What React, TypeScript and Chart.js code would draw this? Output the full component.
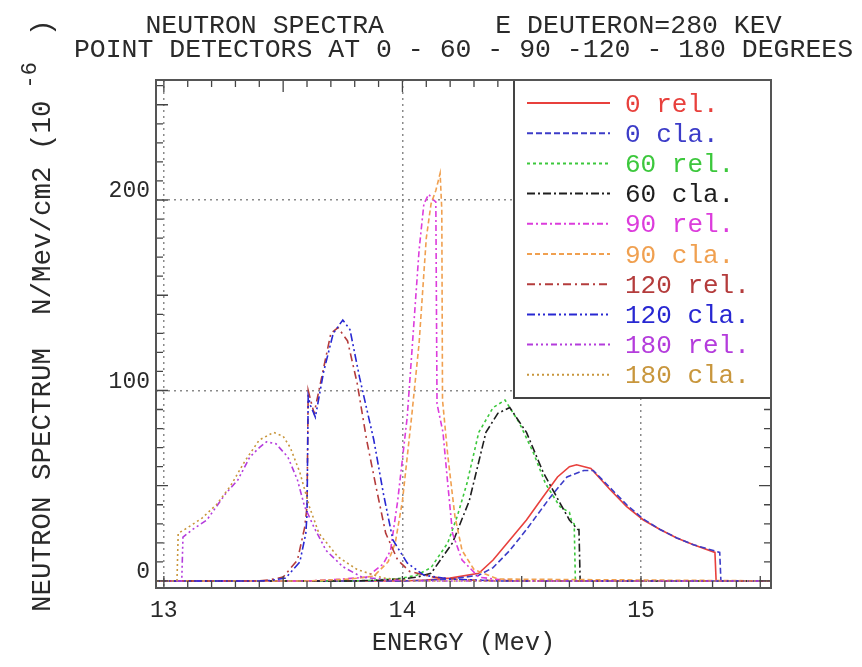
import React, { useEffect, useRef } from 'react';
import { Chart, registerables } from 'chart.js';

Chart.register(...registerables);

const FONT = '"Liberation Mono", "DejaVu Sans Mono", monospace';

// ---- text ----
const titleLine1 = 'NEUTRON SPECTRA       E DEUTERON=280 KEV';
const titleLine2 = 'POINT DETECTORS AT 0 - 60 - 90 -120 - 180 DEGREES';
const yTitleMain = 'NEUTRON SPECTRUM  N/Mev/cm2 (10';
const yTitleSup = '-6';
const yTitleEnd = ')';
const xTitle = 'ENERGY (Mev)';

// ---- axes ----
const xTicks = [13, 14, 15];
const yTicks = [0, 100, 200];
const xMin = 12.967;
const xMax = 15.545;
const yMin = -3.7;
const yMax = 263;

// ---- series labels ----
const labels = ['0 rel.', '0 cla.', '60 rel.', '60 cla.', '90 rel.', '90 cla.', '120 rel.', '120 cla.', '180 rel.', '180 cla.'];

// ---- data (energy MeV, spectrum 1e-6 N/MeV/cm2) ----
const e0rel = [12.95, 14.0, 14.1, 14.2, 14.32, 14.38, 14.45, 14.52, 14.58, 14.65, 14.7, 14.73, 14.79, 14.87, 14.94, 15.01, 15.08, 15.15, 15.22, 15.31, 15.315, 15.6];
const v0rel = [0, 0, 0.5, 1.5, 4, 11, 21.5, 32, 42.5, 54.6, 60, 61, 59, 48, 39, 32, 27, 22.6, 19, 15, 0, 0];

const e0cla = [12.95, 14.0, 14.1, 14.2, 14.32, 14.38, 14.45, 14.52, 14.62, 14.69, 14.76, 14.8, 14.87, 14.94, 15.01, 15.08, 15.15, 15.22, 15.33, 15.335, 15.6];
const v0cla = [0, 0, 0.3, 1, 3, 7, 16, 27, 44, 54.6, 58, 58, 49, 40, 32.5, 27, 22.6, 19, 15, 0, 0];

const e60rel = [12.95, 13.8, 13.9, 14.0, 14.06, 14.12, 14.19, 14.23, 14.27, 14.32, 14.38, 14.43, 14.49, 14.55, 14.6, 14.66, 14.7, 14.71, 14.72, 14.725, 15.6];
const v60rel = [0, 0, 0.5, 1.5, 3, 7, 20, 34, 51, 78, 91, 95, 83, 67, 51, 39, 36, 31, 30, 0, 0];

const e60cla = [12.95, 13.8, 13.9, 14.0, 14.06, 14.12, 14.21, 14.28, 14.35, 14.4, 14.45, 14.52, 14.59, 14.66, 14.7, 14.735, 14.74, 14.745, 15.6];
const v60cla = [0, 0, 0.4, 1, 2, 4, 20, 42, 78, 88, 91, 78, 57, 41, 32, 27, 27, 0, 0];

const e90rel = [12.95, 13.6, 13.75, 13.85, 13.92, 13.95, 13.98, 14.02, 14.04, 14.07, 14.09, 14.11, 14.13, 14.14, 14.145, 14.17, 14.19, 14.21, 14.25, 14.32, 14.45, 15.6];
const v90rel = [0, 0, 1, 2, 9, 16, 42, 86, 121, 174, 198, 203, 200, 199, 93, 78, 51, 25, 11, 2, 0, 0];

const e90cla = [12.95, 13.6, 13.78, 13.88, 13.94, 13.97, 14.0, 14.04, 14.07, 14.1, 14.12, 14.14, 14.158, 14.165, 14.168, 14.19, 14.22, 14.25, 14.3, 14.4, 15.6];
const v90cla = [0, 0, 1, 2.5, 10, 20, 42, 88, 125, 180, 198, 205, 214, 195, 95, 66, 34, 16, 6, 1, 0];

const e120rel = [12.95, 13.4, 13.44, 13.5, 13.56, 13.59, 13.6, 13.605, 13.615, 13.63, 13.67, 13.7, 13.73, 13.77, 13.81, 13.85, 13.89, 13.93, 13.98, 14.03, 14.13, 14.27, 14.5, 15.6];
const v120rel = [0, 0, 0.5, 2, 11, 28, 39, 100, 95, 88, 112, 130, 133, 126, 104, 74, 49, 25, 11, 5, 2, 0.5, 0, 0];

const e120cla = [12.95, 13.4, 13.45, 13.51, 13.57, 13.595, 13.6, 13.605, 13.615, 13.635, 13.67, 13.71, 13.75, 13.78, 13.82, 13.88, 13.92, 13.96, 14.02, 14.09, 14.2, 14.4, 15.6];
const v120cla = [0, 0, 0.3, 1.5, 10, 25, 35, 97, 92, 86, 110, 130, 137, 132, 107, 74, 46, 21.5, 9.5, 3, 1, 0, 0];

const e180rel = [12.95, 13.075, 13.08, 13.12, 13.18, 13.22, 13.26, 13.31, 13.36, 13.4, 13.43, 13.47, 13.52, 13.56, 13.59, 13.63, 13.68, 13.75, 13.83, 13.95, 14.1, 15.6];
const v180rel = [0, 0, 23, 27, 32, 39, 46, 53, 65, 70, 73, 72, 65, 53, 39, 28, 16, 7.5, 2, 0.5, 0, 0];

const e180cla = [12.95, 13.055, 13.06, 13.1, 13.16, 13.22, 13.28, 13.34, 13.4, 13.46, 13.5, 13.53, 13.57, 13.61, 13.65, 13.73, 13.81, 13.92, 14.05, 15.6];
const v180cla = [0, 0, 25, 28, 33, 40, 50, 63, 74, 78, 76, 70, 57, 39, 25, 12.6, 6, 1.5, 0, 0];

const energies = [e0rel, e0cla, e60rel, e60cla, e90rel, e90cla, e120rel, e120cla, e180rel, e180cla];
const values = [v0rel, v0cla, v60rel, v60cla, v90rel, v90cla, v120rel, v120cla, v180rel, v180cla];

// ---- styles ----
const colors = ['#e8403c', '#3c3cc8', '#3cc83c', '#1e1e1e', '#dc3cdc', '#f0a050', '#b43c3c', '#2828d2', '#b43cdc', '#c8963c'];
const dashes: number[][] = [
  [],
  [6, 3],
  [3, 3],
  [8, 3, 2, 3],
  [6, 3, 2, 3],
  [5, 3],
  [8, 4, 2, 4],
  [8, 3, 2, 3, 2, 3],
  [6, 3, 2, 3, 2, 3, 2, 3],
  [2, 3],
];

const decor = {
  id: 'decor',
  afterDatasetsDraw(chart: any) {
    const { ctx, chartArea: a, scales } = chart;
    const x = scales.x;
    const y = scales.y;
    ctx.save();
    // inward minor ticks
    ctx.strokeStyle = '#444';
    ctx.lineWidth = 1.3;
    ctx.setLineDash([]);
    ctx.beginPath();
    for (let k = 130; k <= 155; k++) {
      const px = x.getPixelForValue(k / 10);
      const len = k % 5 === 0 ? 12 : 7;
      ctx.moveTo(px, a.bottom);
      ctx.lineTo(px, a.bottom - len);
      ctx.moveTo(px, a.top);
      ctx.lineTo(px, a.top + len);
    }
    for (let k = 0; k <= 26; k++) {
      const py = y.getPixelForValue(k * 10);
      const len = k % 5 === 0 ? 12 : 7;
      ctx.moveTo(a.left, py);
      ctx.lineTo(a.left + len, py);
      ctx.moveTo(a.right, py);
      ctx.lineTo(a.right - len, py);
    }
    ctx.stroke();

    // legend box
    const bw = 257;
    const bh = 318;
    const bl = a.right - bw;
    const bt = a.top;
    ctx.fillStyle = '#ffffff';
    ctx.fillRect(bl, bt, bw, bh);
    ctx.strokeStyle = '#444';
    ctx.lineWidth = 2;
    ctx.strokeRect(bl, bt, bw, bh);
    chart.data.datasets.forEach((ds: any, i: number) => {
      const cy = bt + 23 + i * 30.2;
      ctx.setLineDash(ds.borderDash || []);
      ctx.strokeStyle = ds.borderColor;
      ctx.lineWidth = 2;
      ctx.beginPath();
      ctx.moveTo(bl + 13, cy);
      ctx.lineTo(bl + 96, cy);
      ctx.stroke();
      ctx.setLineDash([]);
      ctx.fillStyle = ds.borderColor;
      ctx.font = `26px ${FONT}`;
      ctx.textBaseline = 'alphabetic';
      ctx.textAlign = 'left';
      ctx.fillText(ds.label, bl + 111, cy + 8.5);
    });

    // frame
    ctx.setLineDash([]);
    ctx.strokeStyle = '#555';
    ctx.lineWidth = 2;
    ctx.strokeRect(a.left, a.top, a.right - a.left, a.bottom - a.top);
    ctx.restore();
  },
  afterDraw(chart: any) {
    const { ctx, chartArea: a } = chart;
    ctx.save();
    ctx.fillStyle = '#2a2a2a';
    ctx.textBaseline = 'alphabetic';
    ctx.textAlign = 'center';
    ctx.font = `26.5px ${FONT}`;
    const cx = (a.left + a.right) / 2;
    ctx.fillText(titleLine1, cx, 25);
    ctx.fillText(titleLine2, cx, 49);

    // rotated y title
    ctx.translate(42, 604);
    ctx.rotate(-Math.PI / 2);
    ctx.textAlign = 'left';
    ctx.font = `27.5px ${FONT}`;
    ctx.fillText(yTitleMain, 0, 0);
    let w = ctx.measureText(yTitleMain).width;
    ctx.font = `22px ${FONT}`;
    ctx.fillText(yTitleSup, w + 12, -14);
    w += 12 + ctx.measureText(yTitleSup).width + 26;
    ctx.font = `27.5px ${FONT}`;
    ctx.fillText(yTitleEnd, w, 0);
    ctx.restore();
  },
};

export default function App() {
  const ref = useRef<HTMLCanvasElement | null>(null);
  useEffect(() => {
    if (!ref.current) return;
    const datasets = labels.map((label, i) => ({
      label,
      data: energies[i].map((e, j) => ({ x: e, y: values[i][j] })),
      borderColor: colors[i],
      backgroundColor: colors[i],
      borderDash: dashes[i],
      borderWidth: 1.6,
      pointRadius: 0,
      fill: false,
      tension: 0,
      order: labels.length - i,
    }));
    const tickFont = { family: FONT, size: 23 };
    const chart = new Chart(ref.current, {
      type: 'line',
      data: { datasets },
      plugins: [decor],
      options: {
        animation: false,
        responsive: false,
        events: [],
        layout: { padding: { top: 72, right: 83, left: 0, bottom: 0 } },
        plugins: {
          legend: { display: false },
          title: { display: false },
          tooltip: { enabled: false },
        },
        scales: {
          x: {
            type: 'linear',
            min: xMin,
            max: xMax,
            afterFit: (s: any) => {
              s.height = 71;
            },
            afterBuildTicks: (s: any) => {
              s.ticks = xTicks.map((v) => ({ value: v }));
            },
            ticks: {
              font: tickFont,
              color: '#2a2a2a',
              padding: 9,
              maxRotation: 0,
              callback: (v: any) => String(v),
            },
            grid: {
              drawTicks: false,
              color: '#8a8a8a',
              lineWidth: 1.5,
            },
            border: { display: false, dash: [2, 4] },
            title: {
              display: true,
              text: xTitle,
              font: { family: FONT, size: 25.5 },
              color: '#2a2a2a',
              padding: { top: 0, bottom: 0 },
            },
          },
          y: {
            type: 'linear',
            min: yMin,
            max: yMax,
            afterFit: (s: any) => {
              s.width = 148;
            },
            afterBuildTicks: (s: any) => {
              s.ticks = yTicks.map((v) => ({ value: v }));
            },
            ticks: {
              font: tickFont,
              color: '#2a2a2a',
              padding: 6,
              labelOffset: -9,
              callback: (v: any) => String(v),
            },
            grid: {
              drawTicks: false,
              color: (c: any) => (c.tick && c.tick.value === 0 ? 'rgba(0,0,0,0)' : '#8a8a8a'),
              lineWidth: 1.5,
            },
            border: { display: false, dash: [2, 4] },
          },
        },
      } as any,
    });
    return () => chart.destroy();
  }, []);
  return (
    <div style={{ width: 846, height: 651, background: '#fff' }}>
      <canvas ref={ref} width={846} height={651} style={{ display: 'block' }} />
    </div>
  );
}
